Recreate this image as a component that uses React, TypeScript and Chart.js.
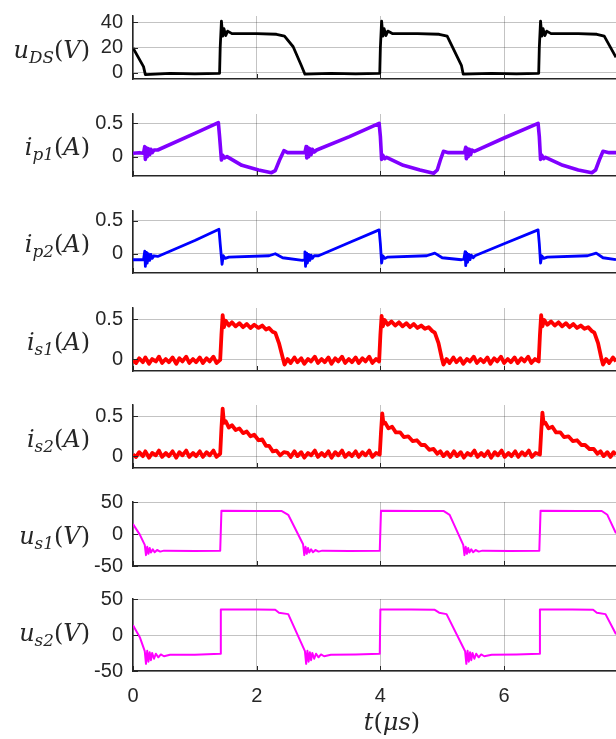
import React, { useEffect, useRef } from "react";
import { Chart, registerables } from "chart.js";

Chart.register(...registerables);

// ---- data (t in µs, value) ----
const X_MIN = 0;
const X_MAX = 7.81;
const X_TICKS = [0, 2, 4, 6];

const uDS: number[][] = [
  [0, 19.6], [0.17, 4.8], [0.2, -1.5], [0.6, -0.6], [1.0, -1], [1.4, -0.5], [1.41, 20], [1.43, 41],
  [1.45, 29], [1.47, 35], [1.5, 29.5], [1.53, 33], [1.6, 31], [2.0, 31], [2.32, 30.5], [2.45, 29],
  [2.59, 20.6], [2.72, 5.9], [2.78, -1.2], [3.2, -0.6], [3.6, -1], [3.99, -0.5], [4.0, 20], [4.02, 41],
  [4.04, 29], [4.06, 35], [4.09, 29.5], [4.12, 33], [4.2, 31], [4.6, 31], [4.95, 30.5], [5.08, 29],
  [5.2, 17], [5.31, 5.9], [5.34, -1.2], [5.8, -0.6], [6.2, -1], [6.56, -0.5], [6.57, 20], [6.59, 41],
  [6.61, 29], [6.63, 35], [6.66, 29.5], [6.69, 33], [6.76, 31], [7.2, 31], [7.5, 30.5], [7.62, 29],
  [7.81, 12.2],
];

const ip1: number[][] = [
  [0, 0.05], [0.1, 0.06], [0.17, 0.05], [0.19, 0.15], [0.2, -0.04], [0.22, 0.13], [0.23, 0.0], [0.25, 0.12],
  [0.27, 0.03], [0.29, 0.11], [0.31, 0.06], [0.34, 0.1], [0.4, 0.1], [1.0, 0.35], [1.38, 0.51], [1.4, 0.3],
  [1.43, -0.05], [1.45, 0.02], [1.48, -0.02], [1.52, 0.0], [1.76, -0.13], [2.03, -0.2], [2.24, -0.24],
  [2.3, -0.21], [2.37, -0.05], [2.44, 0.09], [2.5, 0.06], [2.78, 0.06], [2.8, 0.15], [2.81, -0.02],
  [2.83, 0.13], [2.84, 0.0], [2.86, 0.12], [2.88, 0.03], [2.9, 0.11], [2.93, 0.07], [2.97, 0.1], [3.5, 0.3],
  [3.98, 0.5], [4.0, 0.3], [4.02, -0.04], [4.04, 0.02], [4.07, -0.03], [4.1, -0.01], [4.37, -0.13],
  [4.64, -0.2], [4.86, -0.25], [4.92, -0.2], [4.97, -0.05], [5.02, 0.08], [5.1, 0.06], [5.36, 0.06],
  [5.38, 0.14], [5.39, -0.03], [5.41, 0.12], [5.42, 0.0], [5.44, 0.11], [5.46, 0.03], [5.48, 0.1],
  [5.52, 0.08], [6.0, 0.28], [6.55, 0.5], [6.57, 0.3], [6.59, -0.04], [6.61, 0.02], [6.64, -0.03],
  [6.67, -0.01], [6.95, -0.13], [7.2, -0.2], [7.42, -0.24], [7.48, -0.2], [7.54, -0.05], [7.6, 0.08],
  [7.7, 0.06], [7.81, 0.06],
];

const ip2: number[][] = [
  [0, -0.09], [0.17, -0.09], [0.19, 0.04], [0.2, -0.19], [0.22, 0.02], [0.23, -0.14], [0.25, 0.0],
  [0.27, -0.1], [0.29, -0.01], [0.31, -0.07], [0.34, -0.03], [0.4, -0.04], [1.0, 0.2], [1.39, 0.37],
  [1.41, 0.15], [1.44, -0.16], [1.46, -0.03], [1.49, -0.07], [1.55, -0.05], [2.2, -0.03], [2.3, 0.0],
  [2.42, -0.06], [2.74, -0.1], [2.77, -0.09], [2.78, 0.03], [2.79, -0.19], [2.81, 0.01], [2.82, -0.14],
  [2.84, -0.01], [2.86, -0.1], [2.88, -0.02], [2.9, -0.07], [2.93, -0.03], [3.0, -0.03], [3.5, 0.17],
  [3.98, 0.36], [4.0, 0.15], [4.02, -0.14], [4.04, -0.03], [4.07, -0.07], [4.12, -0.05], [4.75, -0.03],
  [4.88, 0.01], [5.0, -0.06], [5.31, -0.09], [5.35, -0.08], [5.37, 0.03], [5.38, -0.18], [5.4, 0.01],
  [5.41, -0.13], [5.43, -0.01], [5.45, -0.09], [5.47, -0.02], [5.5, -0.06], [5.53, -0.03], [6.0, 0.15],
  [6.55, 0.36], [6.57, 0.15], [6.59, -0.14], [6.61, -0.03], [6.64, -0.07], [6.7, -0.05], [7.35, -0.03],
  [7.49, 0.01], [7.6, -0.06], [7.81, -0.09],
];

const is1: number[][] = [
  [0, -0.02], [0.05, -0.05], [0.1, 0.01], [0.16, -0.04], [0.2, 0.02], [0.26, -0.06], [0.31, 0.0], [0.37, -0.03],
  [0.42, 0.03], [0.47, -0.05], [0.53, 0.0], [0.58, -0.04], [0.64, 0.02], [0.7, -0.06], [0.75, 0.01], [0.8, -0.03],
  [0.86, 0.03], [0.91, -0.05], [0.97, 0.0], [1.02, -0.04], [1.08, 0.02], [1.13, -0.05], [1.19, 0.01], [1.24, -0.03],
  [1.3, 0.03], [1.35, -0.05], [1.41, -0.01],
  [1.43, 0.3], [1.45, 0.55], [1.47, 0.4], [1.5, 0.48], [1.55, 0.42], [1.6, 0.46], [1.66, 0.41], [1.72, 0.45],
  [1.78, 0.4], [1.84, 0.44], [1.9, 0.39], [1.96, 0.43], [2.03, 0.39], [2.09, 0.42], [2.15, 0.37], [2.2, 0.39],
  [2.26, 0.34], [2.3, 0.33], [2.36, 0.2], [2.42, 0.02], [2.45, -0.07],
  [2.5, 0.0], [2.55, -0.05], [2.61, 0.02], [2.66, -0.04], [2.72, 0.01], [2.77, -0.06], [2.83, 0.0], [2.88, -0.03],
  [2.94, 0.03], [2.99, -0.05], [3.05, 0.0], [3.1, -0.04], [3.16, 0.02], [3.21, -0.06], [3.27, 0.01], [3.32, -0.03],
  [3.38, 0.03], [3.43, -0.05], [3.49, 0.0], [3.54, -0.04], [3.6, 0.02], [3.65, -0.05], [3.71, 0.01], [3.76, -0.03],
  [3.82, 0.03], [3.87, -0.05], [3.93, 0.0], [3.98, -0.03],
  [4.0, 0.3], [4.02, 0.54], [4.04, 0.41], [4.07, 0.49], [4.12, 0.43], [4.18, 0.47], [4.24, 0.42], [4.3, 0.46],
  [4.36, 0.41], [4.42, 0.45], [4.48, 0.4], [4.54, 0.44], [4.6, 0.39], [4.66, 0.42], [4.72, 0.38], [4.78, 0.4],
  [4.84, 0.35], [4.88, 0.33], [4.94, 0.2], [4.99, 0.02], [5.02, -0.07],
  [5.07, 0.0], [5.12, -0.05], [5.18, 0.02], [5.23, -0.04], [5.29, 0.01], [5.34, -0.06], [5.4, 0.0], [5.45, -0.03],
  [5.51, 0.03], [5.56, -0.05], [5.62, 0.0], [5.67, -0.04], [5.73, 0.02], [5.78, -0.06], [5.84, 0.01], [5.89, -0.03],
  [5.95, 0.03], [6.0, -0.05], [6.06, 0.0], [6.11, -0.04], [6.17, 0.02], [6.22, -0.05], [6.28, 0.01], [6.33, -0.03],
  [6.39, 0.03], [6.44, -0.05], [6.5, 0.0], [6.56, -0.03],
  [6.58, 0.3], [6.6, 0.55], [6.62, 0.41], [6.65, 0.49], [6.7, 0.43], [6.76, 0.47], [6.82, 0.42], [6.88, 0.46],
  [6.94, 0.41], [7.0, 0.45], [7.06, 0.4], [7.12, 0.44], [7.18, 0.39], [7.24, 0.42], [7.3, 0.38], [7.36, 0.4],
  [7.42, 0.35], [7.46, 0.33], [7.52, 0.2], [7.57, 0.02], [7.6, -0.07],
  [7.65, 0.0], [7.7, -0.05], [7.76, 0.02], [7.81, -0.03],
];

const is2: number[][] = [
  [0, 0.02], [0.05, -0.01], [0.1, 0.05], [0.16, 0.0], [0.2, 0.06], [0.26, -0.02], [0.31, 0.04], [0.37, 0.01],
  [0.42, 0.07], [0.47, -0.01], [0.53, 0.04], [0.58, 0.0], [0.64, 0.06], [0.7, -0.02], [0.75, 0.05], [0.8, 0.01],
  [0.86, 0.07], [0.91, -0.01], [0.97, 0.04], [1.02, 0.0], [1.08, 0.06], [1.13, -0.01], [1.19, 0.05], [1.24, 0.01],
  [1.3, 0.07], [1.35, -0.01], [1.41, 0.03],
  [1.43, 0.35], [1.45, 0.6], [1.47, 0.42], [1.5, 0.44], [1.55, 0.36], [1.6, 0.39], [1.66, 0.33], [1.72, 0.35],
  [1.78, 0.29], [1.84, 0.31], [1.9, 0.25], [1.96, 0.27], [2.03, 0.2], [2.09, 0.21], [2.15, 0.13], [2.2, 0.13],
  [2.26, 0.06], [2.32, 0.07], [2.38, 0.01],
  [2.44, 0.05], [2.5, 0.04], [2.55, -0.01], [2.61, 0.06], [2.66, 0.0], [2.72, 0.05], [2.77, -0.02], [2.83, 0.04],
  [2.88, 0.01], [2.94, 0.07], [2.99, -0.01], [3.05, 0.04], [3.1, 0.0], [3.16, 0.06], [3.21, -0.02], [3.27, 0.05],
  [3.32, 0.01], [3.38, 0.07], [3.43, -0.01], [3.49, 0.04], [3.54, 0.0], [3.6, 0.06], [3.65, -0.01], [3.71, 0.05],
  [3.76, 0.01], [3.82, 0.07], [3.87, -0.01], [3.93, 0.04], [3.99, 0.02],
  [4.01, 0.3], [4.03, 0.54], [4.05, 0.41], [4.08, 0.42], [4.13, 0.35], [4.19, 0.37], [4.25, 0.3], [4.32, 0.3],
  [4.38, 0.24], [4.45, 0.25], [4.52, 0.19], [4.59, 0.2], [4.66, 0.14], [4.72, 0.14], [4.79, 0.08], [4.86, 0.09],
  [4.92, 0.03],
  [4.97, 0.06], [5.02, 0.0], [5.08, 0.05], [5.13, -0.01], [5.19, 0.06], [5.24, 0.0], [5.3, 0.05], [5.35, -0.02],
  [5.41, 0.04], [5.46, 0.01], [5.52, 0.07], [5.57, -0.01], [5.63, 0.04], [5.68, 0.0], [5.74, 0.06], [5.79, -0.02],
  [5.85, 0.05], [5.9, 0.01], [5.96, 0.07], [6.01, -0.01], [6.07, 0.04], [6.12, 0.0], [6.18, 0.06], [6.23, -0.01],
  [6.29, 0.05], [6.34, 0.01], [6.4, 0.07], [6.45, -0.01], [6.51, 0.04], [6.58, 0.02],
  [6.6, 0.3], [6.62, 0.55], [6.64, 0.41], [6.67, 0.42], [6.72, 0.35], [6.78, 0.37], [6.84, 0.3], [6.91, 0.3],
  [6.97, 0.24], [7.04, 0.25], [7.11, 0.19], [7.18, 0.2], [7.25, 0.14], [7.31, 0.14], [7.38, 0.09], [7.45, 0.09],
  [7.51, 0.03],
  [7.56, 0.06], [7.61, 0.0], [7.67, 0.05], [7.72, -0.01], [7.77, 0.05], [7.81, 0.02],
];

const us1: number[][] = [
  [0, 15.5], [0.11, -1], [0.19, -17], [0.21, -33], [0.23, -20], [0.25, -31], [0.27, -22], [0.29, -29],
  [0.32, -24], [0.35, -28.5], [0.39, -25], [0.44, -27.5], [0.5, -26], [1.0, -26.5], [1.41, -26],
  [1.43, 36.5], [2.0, 36], [2.4, 36], [2.51, 30], [2.75, -16], [2.77, -33], [2.79, -20], [2.81, -31],
  [2.83, -22], [2.85, -29], [2.88, -24], [2.91, -28.5], [2.95, -25], [3.0, -27.5], [3.06, -26],
  [3.5, -26.5], [3.99, -26], [4.01, 36.5], [4.6, 36], [5.02, 36], [5.12, 30], [5.34, -17], [5.36, -33],
  [5.38, -20], [5.4, -31], [5.42, -22], [5.44, -29], [5.47, -24], [5.5, -28.5], [5.54, -25],
  [5.59, -27.5], [5.65, -26], [6.1, -26.5], [6.57, -26], [6.59, 36.5], [7.2, 36], [7.58, 36],
  [7.67, 30], [7.81, 1],
];

const us2: number[][] = [
  [0, 13.7], [0.11, -3], [0.19, -22.5], [0.21, -40], [0.23, -22], [0.25, -37], [0.27, -24], [0.29, -35],
  [0.31, -25], [0.34, -33], [0.37, -26], [0.41, -31], [0.45, -27], [0.5, -29.5], [0.6, -27.5],
  [1.0, -27.5], [1.41, -26], [1.42, 35.5], [2.0, 35.5], [2.3, 35], [2.36, 31], [2.51, 29], [2.78, -22.5],
  [2.8, -40], [2.82, -22], [2.84, -37], [2.86, -24], [2.88, -35], [2.9, -25], [2.93, -33], [2.96, -26],
  [3.0, -31], [3.04, -27], [3.09, -29.5], [3.2, -27.5], [3.6, -27], [3.99, -26], [4.0, 35.5], [4.5, 35.5],
  [4.88, 35], [4.95, 31], [5.07, 29], [5.37, -22.5], [5.39, -40], [5.41, -22], [5.43, -37], [5.45, -24],
  [5.47, -35], [5.49, -25], [5.52, -33], [5.55, -26], [5.59, -31], [5.63, -27], [5.68, -29.5],
  [5.8, -27.5], [6.2, -27], [6.57, -26], [6.58, 35.5], [7.1, 35.5], [7.44, 35], [7.5, 31], [7.64, 29],
  [7.81, 1],
];

const TICKS_UDS = [0, 20, 40];
const TICKS_I = [0, 0.5];
const TICKS_US = [-50, 0, 50];

// ---- layout / style ----
const W = 616;
const AXIS_LEFT = 133;
const PAD = 14;
const XAXIS_H = 44;
const GRID = "rgba(38,38,38,0.28)";
const AXIS = "#262626";
const TICK_FONT = { family: "'Liberation Sans', Arial, sans-serif", size: 20 };
const LABEL_FONT = "'DejaVu Serif', 'Liberation Serif', serif";

type PanelDef = {
  data: number[][];
  color: string;
  width: number;
  yMin: number;
  yMax: number;
  yTicks: number[];
  top: number;
  bottom: number;
  label: React.ReactNode;
};

const sub = (s: string) => (
  <span style={{ fontSize: "0.7em", position: "relative", top: "0.32em", fontStyle: "italic" }}>{s}</span>
);

const mk = (v: string, s: string, unit: string) => (
  <span>
    <i>{v}</i>
    {sub(s)}(<i>{unit}</i>)
  </span>
);

const PANELS: PanelDef[] = [
  { data: uDS, color: "#000000", width: 2.8, yMin: -5, yMax: 45, yTicks: TICKS_UDS, top: 8, bottom: 87, label: mk("u", "DS", "V") },
  { data: ip1, color: "#8000ff", width: 3.6, yMin: -0.29, yMax: 0.64, yTicks: TICKS_I, top: 106, bottom: 184, label: mk("i", "p1", "A") },
  { data: ip2, color: "#0000ff", width: 2.8, yMin: -0.29, yMax: 0.645, yTicks: TICKS_I, top: 203, bottom: 281, label: mk("i", "p2", "A") },
  { data: is1, color: "#ff0000", width: 3.8, yMin: -0.15, yMax: 0.64, yTicks: TICKS_I, top: 300, bottom: 379, label: mk("i", "s1", "A") },
  { data: is2, color: "#ff0000", width: 3.8, yMin: -0.15, yMax: 0.645, yTicks: TICKS_I, top: 397, bottom: 476, label: mk("i", "s2", "A") },
  { data: us1, color: "#ff00ff", width: 2, yMin: -50, yMax: 50, yTicks: TICKS_US, top: 494, bottom: 574, label: mk("u", "s1", "V") },
  { data: us2, color: "#ff00ff", width: 2, yMin: -50, yMax: 50, yTicks: TICKS_US, top: 591, bottom: 671, label: mk("u", "s2", "V") },
];

const tickMarks = {
  id: "tickMarks",
  afterDraw(chart: any) {
    const { ctx, chartArea } = chart;
    const xs = chart.scales.x;
    const ys = chart.scales.y;
    ctx.save();
    ctx.strokeStyle = AXIS;
    ctx.lineWidth = 1;
    ctx.beginPath();
    for (const t of ys.ticks) {
      const py = Math.round(ys.getPixelForValue(t.value)) + 0.5;
      ctx.moveTo(chartArea.left, py);
      ctx.lineTo(chartArea.left + 5, py);
    }
    for (const t of xs.ticks) {
      const px = Math.round(xs.getPixelForValue(t.value)) + 0.5;
      ctx.moveTo(px, chartArea.bottom);
      ctx.lineTo(px, chartArea.bottom - 5);
    }
    ctx.stroke();
    ctx.restore();
  },
};

function PanelChart({ p, isLast }: { p: PanelDef; isLast: boolean }) {
  const ref = useRef<HTMLCanvasElement>(null);
  const h = p.bottom - p.top + PAD + (isLast ? XAXIS_H : PAD);
  useEffect(() => {
    if (!ref.current) return;
    const chart = new Chart(ref.current, {
      type: "line",
      data: {
        datasets: [
          {
            data: p.data.map(([x, y]) => ({ x, y })),
            borderColor: p.color,
            borderWidth: p.width,
            pointRadius: 0,
            tension: 0,
            borderJoinStyle: "round",
            fill: false,
          },
        ],
      },
      options: {
        animation: false,
        responsive: false,
        maintainAspectRatio: false,
        devicePixelRatio: 1,
        events: [],
        layout: { padding: { top: PAD, bottom: isLast ? 0 : PAD, left: 0, right: 0 } },
        plugins: { legend: { display: false }, tooltip: { enabled: false } },
        scales: {
          x: {
            type: "linear",
            min: X_MIN,
            max: X_MAX,
            afterBuildTicks: (s: any) => {
              s.ticks = X_TICKS.map((v) => ({ value: v }));
            },
            afterFit: (s: any) => {
              s.height = isLast ? XAXIS_H : 0;
            },
            grid: { color: GRID, drawTicks: false, lineWidth: 1 },
            border: { display: true, color: AXIS, width: 1.5 },
            ticks: {
              display: isLast,
              padding: 13,
              font: TICK_FONT,
              color: AXIS,
              maxRotation: 0,
              autoSkip: false,
              callback: (v: any) => String(v),
            },
          },
          y: {
            type: "linear",
            min: p.yMin,
            max: p.yMax,
            afterBuildTicks: (s: any) => {
              s.ticks = p.yTicks.map((v) => ({ value: v }));
            },
            afterFit: (s: any) => {
              s.width = AXIS_LEFT;
            },
            grid: { color: GRID, drawTicks: false, lineWidth: 1 },
            border: { display: true, color: AXIS, width: 1.5 },
            ticks: {
              padding: 10,
              font: TICK_FONT,
              color: AXIS,
              autoSkip: false,
              callback: (v: any) => String(v),
            },
          },
        },
      } as any,
      plugins: [tickMarks],
    });
    return () => chart.destroy();
  }, []);
  return (
    <canvas
      ref={ref}
      width={W}
      height={h}
      style={{ position: "absolute", left: 0, top: p.top - PAD, width: W, height: h }}
    />
  );
}

export default function App() {
  return (
    <div style={{ position: "absolute", left: 0, top: 0, width: W, height: 739, background: "#fff", overflow: "hidden" }}>
      {PANELS.map((p, i) => (
        <PanelChart key={i} p={p} isLast={i === PANELS.length - 1} />
      ))}
      {PANELS.map((p, i) => (
        <div
          key={"l" + i}
          style={{
            position: "absolute",
            left: 0,
            width: 90,
            top: (p.top + p.bottom) / 2 - 13,
            height: 30,
            lineHeight: "30px",
            textAlign: "right",
            fontFamily: LABEL_FONT,
            fontSize: 24,
            color: "#262626",
            whiteSpace: "nowrap",
          }}
        >
          {p.label}
        </div>
      ))}
      <div
        style={{
          position: "absolute",
          left: 292,
          width: 200,
          top: 707,
          height: 30,
          lineHeight: "30px",
          textAlign: "center",
          fontFamily: LABEL_FONT,
          fontSize: 24,
          color: "#262626",
        }}
      >
        <i>t</i>(<i>μs</i>)
      </div>
    </div>
  );
}
